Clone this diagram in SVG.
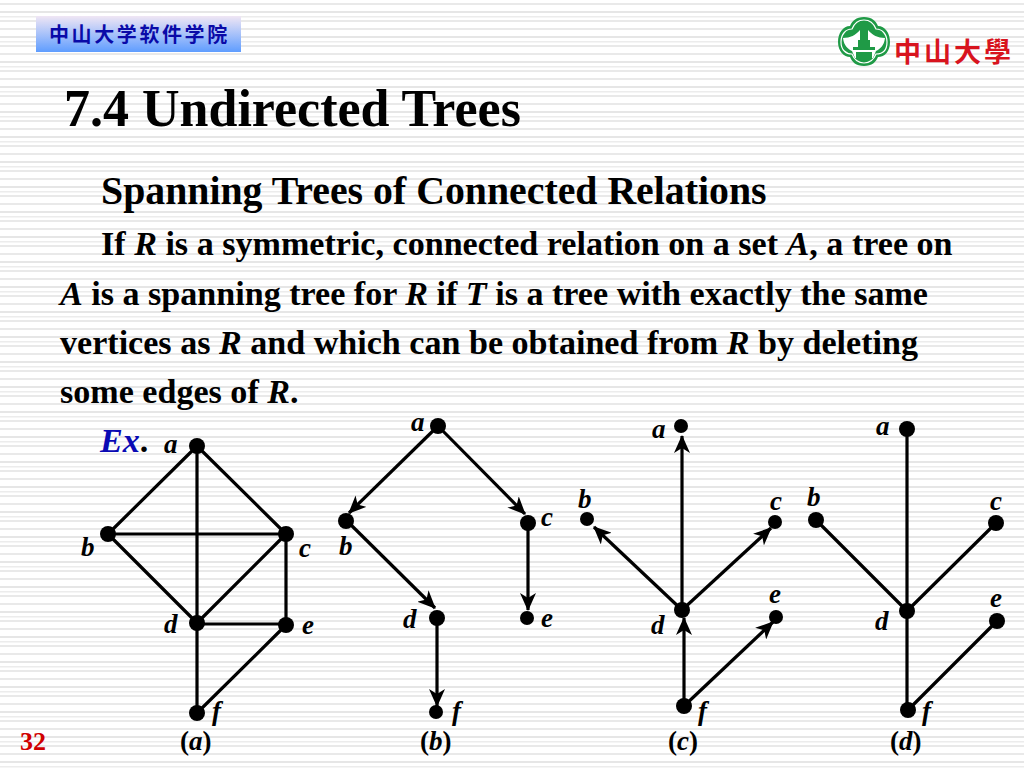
<svg xmlns="http://www.w3.org/2000/svg" width="1024" height="768" viewBox="0 0 1024 768">
<style>
text{font-family:"Liberation Serif","Noto Sans CJK SC",serif;font-weight:bold;fill:#000}
.t{font-size:39.8px}
.b{font-size:34.1px}
.l{font-size:27px;font-style:italic}
.c{font-size:27px}
.i{font-style:italic}
.e{stroke:#000;stroke-width:3.2;fill:none}
.a{stroke:#000;stroke-width:3.2;fill:none;marker-end:url(#ah)}
.n{fill:#000}
</style>
<defs>
<pattern id="st" width="10" height="25" patternUnits="userSpaceOnUse" y="3">
<rect width="10" height="25" fill="#fff"/>
<rect y="0" width="10" height="2" fill="#e9e9e9"/>
<rect y="8" width="10" height="2" fill="#e6e6e6"/>
<rect y="13" width="10" height="1.5" fill="#ececec"/>
<rect y="17" width="10" height="2" fill="#e9e9e9"/>
</pattern>
<linearGradient id="hd" x1="0" y1="0" x2="0" y2="1"><stop offset="0" stop-color="#f0e6f4"/><stop offset="1" stop-color="#5f9dff"/></linearGradient>
<marker id="ah" viewBox="0 0 18 16" refX="17" refY="8" markerUnits="userSpaceOnUse" markerWidth="18" markerHeight="16" orient="auto"><path d="M0 0L18 8L0 16L5 8Z" fill="#000"/></marker>
</defs>
<rect width="1024" height="768" fill="url(#st)"/>
<g id="header"><rect x="36" y="16" width="205" height="36" fill="url(#hd)"/>
<text x="49" y="42" font-size="20" letter-spacing="2.6" style="fill:#0a0aa8;font-weight:bold;font-family:'Noto Sans CJK SC',serif">中山大学软件学院</text></g>
<g id="logo">
<path d="M864 17c8 0 12 4 14 9 7 0 12 7 12 16s-5 15-12 15c-2 5-6 9-14 9s-12-4-14-9c-6 0-12-6-12-15s5-16 12-16c2-5 6-9 14-9z" fill="#1f9a46"/>
<path d="M864 20c6 0 10 4 12 9 6 0 11 5 11 13s-4 12-11 12c-2 5-6 9-12 9s-10-4-12-9c-6 0-11-4-11-12s5-13 11-13c2-5 6-9 12-9z" fill="#1f9a46" stroke="#fff" stroke-width="1.2"/>
<path d="M843 38c7 0 13-3 17-8h8c4 5 10 8 17 8-1 8-5 11-9 13l-3 7h-18l-3-7c-4-2-8-5-9-13z" fill="#fff"/>
<path d="M862 24h4v6h2v10h2v7h-12v-7h2V30h2z" fill="#1f9a46"/>
<path d="M853 47h22v3h-22zM856 52h16v6h-16z" fill="#1f9a46"/>
<text x="894" y="62" font-size="27" letter-spacing="3" style="fill:#d8141e;font-weight:bold;font-family:'Noto Sans CJK TC',serif">中山大學</text></g>
<text x="64" y="126" font-size="52" id="title">7.4 Undirected Trees</text>
<text x="101" y="204" class="t">Spanning Trees of Connected Relations</text>
<text x="101" y="255" class="b">If <tspan class="i">R</tspan> is a symmetric, connected relation on a set <tspan class="i">A</tspan>, a tree on</text>
<text x="60" y="305" class="b"><tspan class="i">A</tspan> is a spanning tree for <tspan class="i">R</tspan> if <tspan class="i">T</tspan> is a tree with exactly the same</text>
<text x="60" y="354" class="b">vertices as <tspan class="i">R</tspan> and which can be obtained from <tspan class="i">R</tspan> by deleting</text>
<text x="60" y="403" class="b">some edges of <tspan class="i">R</tspan>.</text>
<text x="100" y="452" class="b"><tspan class="i" style="fill:#0a0ab4">Ex</tspan>.</text>
<text x="20" y="750" font-size="26" style="fill:#d00000">32</text>
<g id="connectors">
<path class="e" d="M197 446L108 534M197 446L286 534M197 446V623M108 534H286M108 534L197 623M286 534L197 623M286 534V625M197 623V713M197 624H286M286 625L197 713"/>
<path class="a" d="M438 426L349 513"/>
<path class="a" d="M438 426L525 514"/>
<path class="a" d="M347 521L435 608"/>
<path class="a" d="M528 523V610"/>
<path class="e" d="M437 618V650"/><path class="a" d="M437 650V706"/>
<path class="a" d="M682 610V436"/>
<path class="a" d="M682 610L594 527"/>
<path class="a" d="M682 610L771 528"/>
<path class="a" d="M684 706V618"/>
<path class="a" d="M684 706L773 622"/>
<path class="e" d="M907 428V710M907 611L816 520M907 611L996 523M908 710L997 621"/>
</g>
<g id="graph-a" class="n"><circle cx="197" cy="446" r="8"/><circle cx="108" cy="534" r="8"/><circle cx="286" cy="534" r="8"/><circle cx="197" cy="623" r="8"/><circle cx="286" cy="625" r="8"/><circle cx="197" cy="713" r="8"/></g>
<g id="graph-b" class="n"><circle cx="438" cy="426" r="8"/><circle cx="346" cy="521" r="8"/><circle cx="528" cy="523" r="8"/><circle cx="437" cy="618" r="8"/><circle cx="527" cy="618" r="7"/><circle cx="436" cy="712" r="7"/></g>
<g id="graph-c" class="n"><circle cx="681" cy="426" r="7"/><circle cx="587" cy="519" r="7"/><circle cx="775" cy="522" r="7"/><circle cx="682" cy="610" r="8"/><circle cx="776" cy="617" r="7"/><circle cx="684" cy="706" r="8"/></g>
<g id="graph-d" class="n"><circle cx="907" cy="429" r="8"/><circle cx="816" cy="520" r="8"/><circle cx="996" cy="523" r="8"/><circle cx="907" cy="611" r="8"/><circle cx="997" cy="621" r="8"/><circle cx="908" cy="710" r="8"/></g>
<g id="labels">
<text class="l" x="164" y="453">a</text><text class="l" x="81" y="556">b</text><text class="l" x="299" y="557">c</text><text class="l" x="164" y="633">d</text><text class="l" x="302" y="634">e</text><text class="l" x="212" y="720">f</text>
<text class="l" x="411" y="431">a</text><text class="l" x="339" y="555">b</text><text class="l" x="541" y="526">c</text><text class="l" x="403" y="628">d</text><text class="l" x="541" y="627">e</text><text class="l" x="452" y="720">f</text>
<text class="l" x="652" y="438">a</text><text class="l" x="578" y="508">b</text><text class="l" x="770" y="510">c</text><text class="l" x="651" y="634">d</text><text class="l" x="769" y="603">e</text><text class="l" x="698" y="720">f</text>
<text class="l" x="876" y="435">a</text><text class="l" x="807" y="506">b</text><text class="l" x="990" y="510">c</text><text class="l" x="875" y="630">d</text><text class="l" x="990" y="607">e</text><text class="l" x="922" y="720">f</text>
<text class="c" x="180" y="750">(<tspan class="i">a</tspan>)</text><text class="c" x="420" y="750">(<tspan class="i">b</tspan>)</text><text class="c" x="668" y="750">(<tspan class="i">c</tspan>)</text><text class="c" x="890" y="750">(<tspan class="i">d</tspan>)</text>
</g>
</svg>
